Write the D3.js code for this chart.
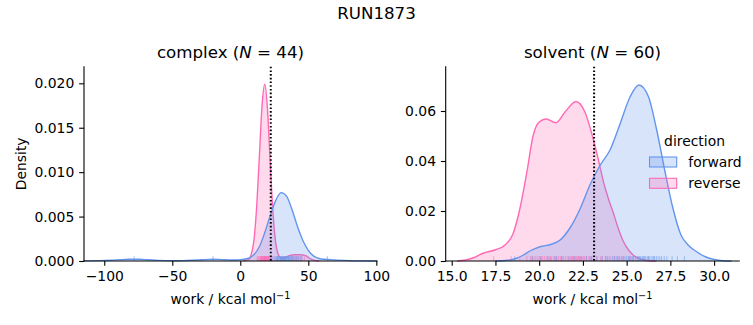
<!DOCTYPE html>
<html>
<head>
<meta charset="utf-8">
<script src="https://cdn.jsdelivr.net/npm/d3@7"></script>
<style>
html,body{margin:0;padding:0;background:#fff;}
svg{display:block;font-family:"DejaVu Sans",sans-serif;}
</style>
</head>
<body>
<svg id="chart" width="753" height="325"></svg>
<script>
// ---------------- data ----------------
const suptitle = "RUN1873";
const directions = ["forward", "reverse"];
const colors = { forward: "#6495ED", reverse: "#FF69B4" };

// complex panel: KDE curves
const complexForwardX = [-115,-105,-95,-88,-82,-78,-74,-68,-60,-50,-42,-35,-28,-23,-20,-16,-11,-6,-2,2,6,10,14,18,22,26,30,34,38,42,46,50,54,58,62,66,72,80,90,100.5];
const complexForwardD = [0.00001,0.00004,0.00009,0.00015,0.00019,0.0002,0.00019,0.00014,0.00007,0.00003,0.00004,0.00008,0.00014,0.00018,0.00019,0.00018,0.00014,0.00011,0.00012,0.00018,0.00032,0.0007,0.0016,0.0032,0.0051,0.0068,0.0077,0.0073,0.0058,0.0039,0.0023,0.0012,0.00055,0.00028,0.00019,0.00016,0.0001,0.00004,0.00001,0];
const complexReverseX = [2,6,8,10,12,14,16,18,20,22,24,26,28,30,33,36,40,44,48,51,54,58];
const complexReverseD = [0.00001,0.00015,0.0007,0.0023,0.006,0.0117,0.0175,0.0199,0.0171,0.0111,0.0055,0.0021,0.0007,0.0003,0.0004,0.0006,0.0007,0.0007,0.0006,0.0003,0.0001,0];
const complexForwardRug = [-78,-20,64,22.5,24.1,25.3,26.0,26.8,27.4,28.0,28.5,29.1,29.6,30.2,30.7,31.1,31.6,32.0,32.4,32.9,33.3,33.8,34.2,34.9,35.5,36.0,36.8,37.4,38.1,38.9,39.6,40.5,41.3,42.2,43.0,44.1,45.2,27.1,29.9,31.9,33.5,35.1,37.9,30.5];
const complexReverseRug = [12.4,13.1,13.8,14.3,14.9,15.2,15.6,15.9,16.3,16.6,16.9,17.2,17.5,17.7,18.0,18.2,18.5,18.7,19.0,19.3,19.6,19.9,20.2,20.6,21.0,21.4,21.8,22.3,22.9,23.4,17.9,18.4,16.1,19.5,20.9,15.4,36.2,38.0,39.5,41.1,42.6,44.0,45.3,47.1];
const complexLine = 22.4;

// solvent panel
const solventForwardX = [17.5,18.2,18.7,19.1,19.5,20.05,20.7,21.2,21.75,22.35,22.9,23.5,24.05,24.6,25.2,25.7,26.25,26.7,27.2,27.65,28.1,28.5,29.0,29.5,30.0,30.5,31.0];
const solventForwardD = [0,0.0003,0.0011,0.0024,0.0041,0.0057,0.0067,0.0084,0.0131,0.021,0.0304,0.0385,0.0444,0.0544,0.0657,0.0704,0.0657,0.053,0.0355,0.021,0.0105,0.0065,0.0037,0.0017,0.0006,0.0001,0];
const solventReverseX = [15.3,15.8,16.25,16.8,17.5,18.05,18.5,18.9,19.3,19.65,20.0,20.4,20.95,21.5,22.1,22.6,23.1,23.4,23.7,24.0,24.25,24.5,24.8,25.1,25.4,25.85,26.3,26.7];
const solventReverseD = [0,0.0004,0.0013,0.0031,0.0045,0.0064,0.0108,0.021,0.0357,0.05,0.0556,0.0568,0.0553,0.0598,0.0638,0.0598,0.0485,0.04,0.031,0.024,0.019,0.0135,0.008,0.0045,0.0022,0.0007,0.0001,0];
const solventForwardRug = [18.6,19.6,20.1,20.5,20.9,21.3,21.7,22.0,22.4,22.7,23.0,23.3,23.6,23.8,24.0,24.2,24.4,24.6,24.8,24.9,25.0,25.1,25.2,25.3,25.4,25.5,25.6,25.7,25.8,25.9,26.0,26.1,26.2,26.3,26.4,26.5,26.6,26.7,26.8,26.9,27.0,27.3,27.6,27.9,28.3,24.3,24.7,25.35,25.65,25.95,26.25,26.55,23.9,24.5,25.15,25.75,26.05,21.0,22.9,27.15];
const solventReverseRug = [17.4,18.9,19.3,19.5,19.7,19.8,20.0,20.1,20.2,20.4,20.5,20.6,20.7,20.9,21.0,21.1,21.2,21.3,21.5,21.6,21.7,21.8,21.9,22.0,22.1,22.2,22.3,22.4,22.5,22.6,22.7,22.8,22.9,23.1,23.3,23.5,23.8,24.1,24.5,25.2,19.9,20.3,20.8,21.4,22.05,22.15,22.35,21.95,20.65,21.25,19.6,22.55,23.0,23.6,24.3,20.05,21.85,22.25,18.4,24.8];
const solventLine = 23.14;

const complexXTicks = [-100,-50,0,50,100];
const complexYTicks = [0,0.005,0.01,0.015,0.02];
const solventXTicks = [15,17.5,20,22.5,25,27.5,30];
const solventYTicks = [0,0.02,0.04,0.06];

// ---------------- drawing ----------------
const svg = d3.select("#chart");
const FS = 13.9, TFS = 16.67, TICK = 4.86, LW = 1.1;

svg.append("text").attr("x", 376.5).attr("y", 19.2).attr("text-anchor", "middle")
  .attr("font-size", TFS).text(suptitle);

function panel(cfg) {
  const x = d3.scaleLinear().domain(cfg.xDomain).range([cfg.x0, cfg.x1]);
  const y = d3.scaleLinear().domain(cfg.yDomain).range([261, 66.7]);
  const g = svg.append("g");

  const area = d3.area().x(d => x(d[0])).y0(y(0)).y1(d => y(d[1])).curve(d3.curveMonotoneX);
  const line = d3.line().x(d => x(d[0])).y(d => y(d[1])).curve(d3.curveMonotoneX);

  // seaborn layers the first hue on top: draw reverse first
  const series = [
    { key: "reverse", xs: cfg.revX, ds: cfg.revD },
    { key: "forward", xs: cfg.fwdX, ds: cfg.fwdD }
  ];
  series.forEach(s => {
    const pts = s.xs.map((v, i) => [v, s.ds[i]]);
    g.append("path").datum(pts).attr("d", area)
      .attr("fill", colors[s.key]).attr("fill-opacity", 0.25).attr("stroke", "none");
    g.append("path").datum(pts).attr("d", line)
      .attr("fill", "none").attr("stroke", colors[s.key]).attr("stroke-width", 1.4);
  });

  // rugs
  const rugH = 0.025 * (261 - 66.7);
  [["reverse", cfg.revRug], ["forward", cfg.fwdRug]].forEach(([k, vals]) => {
    g.selectAll(null).data(vals).enter().append("line")
      .attr("x1", d => x(d)).attr("x2", d => x(d))
      .attr("y1", 261).attr("y2", 261 - rugH)
      .attr("stroke", colors[k]).attr("stroke-width", 1).attr("stroke-opacity", 0.55);
  });

  // dotted line
  g.append("line").attr("x1", x(cfg.vline)).attr("x2", x(cfg.vline))
    .attr("y1", 66.7).attr("y2", 261)
    .attr("stroke", "#000").attr("stroke-width", 2).attr("stroke-dasharray", "1.6,2.1");

  // axes
  const xa = g.append("g").attr("transform", "translate(0,261)")
    .call(d3.axisBottom(x).tickValues(cfg.xTicks).tickSize(TICK).tickPadding(TICK).tickFormat(cfg.xFmt));
  const ya = g.append("g").attr("transform", `translate(${cfg.x0},0)`)
    .call(d3.axisLeft(y).tickValues(cfg.yTicks).tickSize(TICK).tickPadding(TICK).tickFormat(cfg.yFmt));
  [xa, ya].forEach(a => {
    a.select(".domain").remove();
    a.selectAll(".tick line").attr("stroke", "#000").attr("stroke-width", LW);
    a.selectAll(".tick text").attr("fill", "#000").attr("font-size", FS).attr("font-family", "DejaVu Sans");
  });
  g.append("line").attr("x1", cfg.x0).attr("x2", cfg.x1).attr("y1", 261).attr("y2", 261)
    .attr("stroke", "#000").attr("stroke-width", LW).attr("stroke-linecap", "square");
  g.append("line").attr("x1", cfg.x0).attr("x2", cfg.x0).attr("y1", 66.7).attr("y2", 261)
    .attr("stroke", "#000").attr("stroke-width", LW).attr("stroke-linecap", "square");

  // title
  const cx = (cfg.x0 + cfg.x1) / 2;
  const t = g.append("text").attr("x", cx).attr("y", 58.4).attr("text-anchor", "middle").attr("font-size", TFS);
  t.append("tspan").text(cfg.name + " (");
  t.append("tspan").attr("font-style", "italic").text("N");
  t.append("tspan").text(" = " + cfg.n + ")");

  // x label
  const xl = g.append("text").attr("x", cx).attr("y", 304).attr("text-anchor", "middle").attr("font-size", FS);
  xl.append("tspan").text("work / kcal mol");
  xl.append("tspan").attr("dy", -5.5).attr("font-size", FS * 0.7).text("\u22121");
  return { x, y, g };
}

const left = panel({
  name: "complex", n: 44, x0: 84, x1: 377,
  xDomain: [-114.9, 100.5], yDomain: [0, 0.02187],
  fwdX: complexForwardX, fwdD: complexForwardD, revX: complexReverseX, revD: complexReverseD,
  fwdRug: complexForwardRug, revRug: complexReverseRug, vline: complexLine,
  xTicks: complexXTicks, yTicks: complexYTicks, xFmt: d3.format("d"), yFmt: d3.format(".3f")
});
const right = panel({
  name: "solvent", n: 60, x0: 445.7, x1: 739.3,
  xDomain: [14.657, 31.44], yDomain: [0, 0.07772],
  fwdX: solventForwardX, fwdD: solventForwardD, revX: solventReverseX, revD: solventReverseD,
  fwdRug: solventForwardRug, revRug: solventReverseRug, vline: solventLine,
  xTicks: solventXTicks, yTicks: solventYTicks, xFmt: d3.format(".1f"), yFmt: d3.format(".2f")
});

// y label
svg.append("text").attr("transform", "translate(25.7,163.85) rotate(-90)")
  .attr("text-anchor", "middle").attr("font-size", FS).text("Density");

// legend
const lg = svg.append("g");
lg.append("text").attr("x", 694.5).attr("y", 146).attr("text-anchor", "middle").attr("font-size", FS).text("direction");
directions.forEach((k, i) => {
  const yy = 157 + i * 21.3;
  lg.append("rect").attr("x", 649.5).attr("y", yy).attr("width", 27.2).attr("height", 10)
    .attr("fill", colors[k]).attr("fill-opacity", 0.25).attr("stroke", colors[k]).attr("stroke-width", 1.1);
  lg.append("text").attr("x", 688.3).attr("y", yy + 9.5).attr("font-size", FS).text(k);
});
</script>
</body>
</html>
